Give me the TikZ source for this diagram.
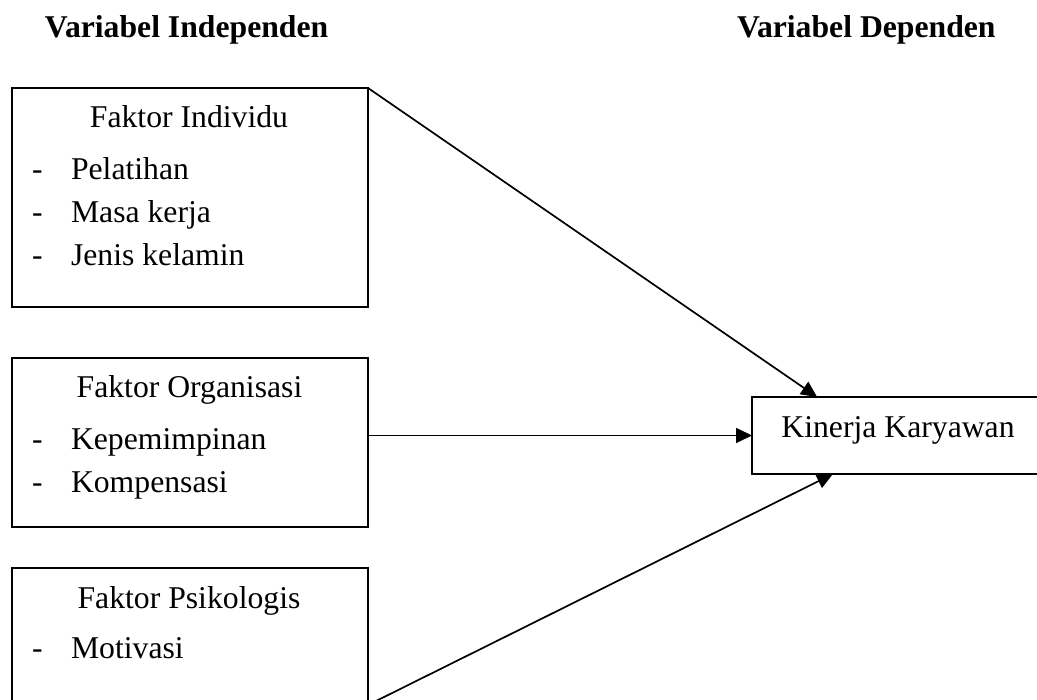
\documentclass[tikz,border=0pt]{standalone}
\usepackage{fontspec}
\setmainfont{Liberation Serif}
\usetikzlibrary{arrows.meta,calc}
\begin{document}
\begin{tikzpicture}[x=1pt,y=-1pt,
  box/.style={draw,line width=1.7pt,rectangle,inner sep=0pt,outer sep=0pt,minimum width=356pt},
  txt/.style={inner sep=0pt,outer sep=0pt,font=\fontsize{31.7}{38}\selectfont},
  head/.style={txt,font=\fontsize{31.7}{38}\selectfont\bfseries},
  arr/.style={line width=1.7pt,-{Triangle[length=16pt,width=15pt]}}]
\useasboundingbox (0,0) rectangle (1037,700);
\clip (0,0) rectangle (1037,700);
% headers
\node[head,anchor=base west] (h1) at (45,38) {Variabel Independen};
\node[head,anchor=base west] (h2) at (737,38) {Variabel Dependen};
% boxes
\node[box,minimum height=219pt] (b1) at (190,197.5) {};
\node[box,minimum height=169pt] (b2) at (190,442.5) {};
\node[box,minimum height=137pt] (b3) at (190,636.5) {};
\node[box,minimum width=292pt,minimum height=77pt] (kin) at (898,435.5) {};
% box 1 texts
\node[txt,anchor=base] (t1) at (189,128) {Faktor Individu};
\node[txt,anchor=base west] (d11) at (32,180) {-};
\node[txt,anchor=base west] (i11) at (71,180) {Pelatihan};
\node[txt,anchor=base west] (d12) at (32,223) {-};
\node[txt,anchor=base west] (i12) at (71,223) {Masa kerja};
\node[txt,anchor=base west] (d13) at (32,266) {-};
\node[txt,anchor=base west] (i13) at (71,266) {Jenis kelamin};
% box 2 texts
\node[txt,anchor=base] (t2) at (189.5,398) {Faktor Organisasi};
\node[txt,anchor=base west] (d21) at (32,450) {-};
\node[txt,anchor=base west] (i21) at (71,450) {Kepemimpinan};
\node[txt,anchor=base west] (d22) at (32,493) {-};
\node[txt,anchor=base west] (i22) at (71,493) {Kompensasi};
% box 3 texts
\node[txt,anchor=base] (t3) at (189,608) {Faktor Psikologis};
\node[txt,anchor=base west] (d31) at (32,658) {-};
\node[txt,anchor=base west] (i31) at (71,658) {Motivasi};
% dependent
\node[txt,anchor=base] (tk) at (898,438) {Kinerja Karyawan};
% arrows
\draw[arr] (b1.north east) -- ($(kin.north west)!0.223!(kin.north east)$);
\draw[arr] (b2.east |- kin.west) -- (kin.west);
\draw[arr] (b3.south east) -- ($(kin.south west)!0.277!(kin.south east)$);
\end{tikzpicture}
\end{document}
